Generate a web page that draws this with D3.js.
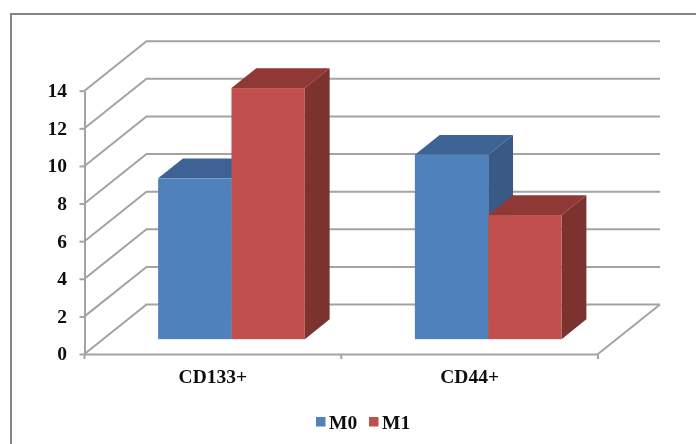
<!DOCTYPE html>
<html>
<head>
<meta charset="utf-8">
<script src="https://cdn.jsdelivr.net/npm/d3@7"></script>
<style>
  body { margin: 0; background: #fff; }
  text { font-family: "Liberation Serif", serif; font-weight: bold; fill: #111; }
</style>
</head>
<body>
<div id="chart"></div>
<script>
// Values
const categories = ["CD133+", "CD44+"];
const seriesNames = ["M0", "M1"];
const m0Values = [8.55, 9.8];
const m1Values = [13.35, 6.6];
const yTicks = [0, 2, 4, 6, 8, 10, 12, 14];

const width = 696;
const height = 444;
const gridColor = "#a3a3a3";
const gridWidth = 2;
const labelSize = 19.5;

// Colours for the faces of each series
const colors = {
  M0: { front: "#4f81bd", top: "#3c6494", side: "#375a85" },
  M1: { front: "#c0504d", top: "#8f3836", side: "#7b302e" }
};

// Fake 3D: depth of the floor, and where a bar sits inside it
const depth = { x: 62, y: -49.5 };
const barFrontAt = 0.3;
const barBackAt = 0.7;

const svg = d3.select("#chart")
  .append("svg")
  .attr("width", width)
  .attr("height", height)
  .style("display", "block");

// The source is a slightly soft scan
const filter = svg.append("defs").append("filter").attr("id", "soft");
filter.append("feGaussianBlur").attr("stdDeviation", 0.45);

const root = svg.append("g").attr("filter", "url(#soft)");

// Outer frame runs off the right and bottom of the image
root.append("rect")
  .attr("x", 11)
  .attr("y", 14)
  .attr("width", 720)
  .attr("height", 480)
  .attr("fill", "#fff")
  .attr("stroke", "#858585")
  .attr("stroke-width", 2);

// Set up scales
const x0 = d3.scaleBand()
  .domain(categories)
  .range([84.5, 598]);

const x1 = d3.scaleBand()
  .domain(seriesNames)
  .range([0, x0.bandwidth()])
  .paddingInner(0)
  .paddingOuter(0.75);

const y = d3.scaleLinear()
  .domain([0, 14])
  .range([354, 90.7]);

// Back wall gridlines and the diagonals on the side wall
yTicks.forEach(function (t) {
  root.append("path")
    .attr("d", d3.line()([
      [x0.range()[0], y(t)],
      [x0.range()[0] + depth.x, y(t) + depth.y],
      [x0.range()[1] + depth.x, y(t) + depth.y]
    ]))
    .attr("fill", "none")
    .attr("stroke", gridColor)
    .attr("stroke-width", gridWidth);
});

// Right edge of the floor
root.append("line")
  .attr("x1", x0.range()[1])
  .attr("y1", y(0))
  .attr("x2", x0.range()[1] + depth.x)
  .attr("y2", y(0) + depth.y)
  .attr("stroke", gridColor)
  .attr("stroke-width", gridWidth);

// Draw the axes
const yAxis = root.append("g")
  .attr("transform", `translate(${x0.range()[0]},0)`)
  .call(d3.axisLeft(y).tickValues(yTicks).tickSize(5).tickPadding(12.5).tickSizeOuter(0));

const xAxis = root.append("g")
  .attr("transform", `translate(0,${y(0)})`)
  .call(d3.axisBottom(x0).tickSize(0).tickPadding(21.5));

[yAxis, xAxis].forEach(function (axis) {
  axis.selectAll("path, line")
    .attr("stroke", gridColor)
    .attr("stroke-width", gridWidth);
  axis.selectAll("text")
    .attr("font-family", "Liberation Serif")
    .attr("font-weight", "bold")
    .attr("font-size", labelSize)
    .attr("fill", "#111");
});
yAxis.selectAll("text").attr("dy", "0.3em");
xAxis.selectAll("text").attr("dy", "0.4em");

// Category ticks sit on the band edges, not the centres
[x0.range()[0], x0(categories[1]), x0.range()[1]].forEach(function (tx) {
  root.append("line")
    .attr("x1", tx)
    .attr("x2", tx)
    .attr("y1", y(0))
    .attr("y2", y(0) + 5)
    .attr("stroke", gridColor)
    .attr("stroke-width", gridWidth);
});

// Draw the bars, one box per value
const baseY = y(0) + depth.y * barFrontAt;
const valueHeight = v => y(0) - y(v);
const dx = depth.x * (barBackAt - barFrontAt);
const dy = depth.y * (barBackAt - barFrontAt);

function drawBar(category, name, value) {
  const left = x0(category) + x1(name) + depth.x * barFrontAt;
  const right = left + x1.bandwidth();
  const top = baseY - valueHeight(value);
  const c = colors[name];

  root.append("polygon")
    .attr("points", [[right, baseY], [right + dx, baseY + dy], [right + dx, top + dy], [right, top]].join(" "))
    .attr("fill", c.side);

  root.append("polygon")
    .attr("points", [[left, top], [left + dx, top + dy], [right + dx, top + dy], [right, top]].join(" "))
    .attr("fill", c.top);

  root.append("rect")
    .attr("x", left)
    .attr("y", top)
    .attr("width", x1.bandwidth())
    .attr("height", baseY - top)
    .attr("fill", c.front);
}

categories.forEach(function (category, i) {
  drawBar(category, "M0", m0Values[i]);
  drawBar(category, "M1", m1Values[i]);
});

// Add the legend
const legendX = [316, 369];
seriesNames.forEach(function (name, i) {
  root.append("rect")
    .attr("x", legendX[i])
    .attr("y", 417)
    .attr("width", 9.5)
    .attr("height", 9.5)
    .attr("fill", colors[name].front);

  root.append("text")
    .attr("x", legendX[i] + 13)
    .attr("y", 428.5)
    .attr("font-size", labelSize)
    .text(name);
});
</script>
</body>
</html>
